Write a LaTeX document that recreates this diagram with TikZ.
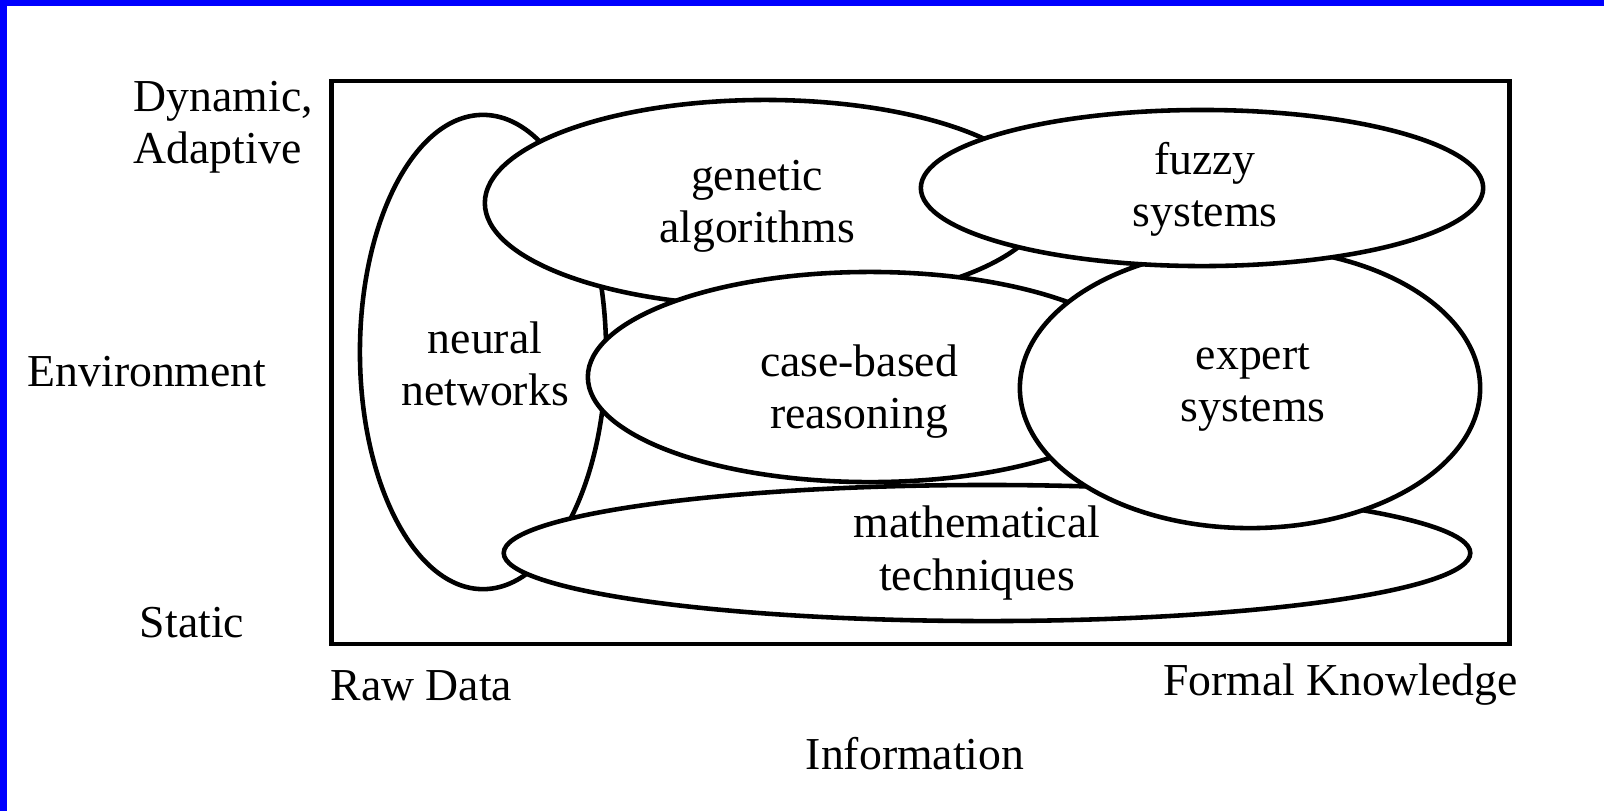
\documentclass[tikz,border=0pt]{standalone}
\usepackage{fontspec}
\setmainfont{Liberation Serif}
\usetikzlibrary{shapes.geometric}

\tikzset{
  blob/.style={draw, ellipse, fill=white, line width=1.3pt, inner sep=0pt},
  lbl/.style={align=center, inner sep=0pt, font=\fontsize{13}{14.8}\selectfont},
}

\begin{document}
\begin{tikzpicture}[x=0.01cm, y=-0.01cm]
  \fill[white] (0,0) rectangle (1604,811);
  \fill[blue] (0,0) rectangle (1604,6);
  \fill[blue] (0,0) rectangle (7,811);

  \node[draw, line width=1.3pt, inner sep=0pt, minimum width=11.77cm, minimum height=5.63cm] (space) at (920.5,362.5) {};

  % technique regions, later ones cover earlier ones
  \node[blob, minimum width=2.46cm, minimum height=4.74cm] (neural) at (483,352) {};
  \node[blob, minimum width=5.60cm, minimum height=2.06cm] (genetic) at (765,203) {};
  \node[blob, minimum width=5.64cm, minimum height=2.10cm] (cbr) at (870,377) {};
  \node[blob, minimum width=9.66cm, minimum height=1.36cm] (math) at (987,553) {};
  \node[blob, minimum width=4.60cm, minimum height=2.80cm] (expert) at (1250,388) {};
  \node[blob, minimum width=5.62cm, minimum height=1.56cm] (fuzzy) at (1202,188) {};

  \node[lbl] (neuraltext) at (485,364) {neural\\networks};
  \node[lbl] (genetictext) at (757,206) {genetic\\algorithms};
  \node[lbl] (cbrtext) at (859,392) {case-based\\reasoning};
  \node[lbl] (mathtext) at (977,553) {mathematical\\techniques};
  \node[lbl] (experttext) at (1253,388) {expert\\systems};
  \node[lbl] (fuzzytext) at (1205,189) {fuzzy\\systems};

  % axes
  \node[lbl, align=left, anchor=west] (dynamic) at (133,127) {Dynamic,\\Adaptive};
  \node[lbl, anchor=base] (environment) at (147,386) {Environment};
  \node[lbl, anchor=base] (static) at (192,637) {Static};
  \node[lbl, anchor=base west] (raw) at (330,700) {Raw Data};
  \node[lbl, anchor=base east] (formal) at (1518,695) {Formal Knowledge};
  \node[lbl, anchor=base] (information) at (915,769) {Information};
\end{tikzpicture}
\end{document}
